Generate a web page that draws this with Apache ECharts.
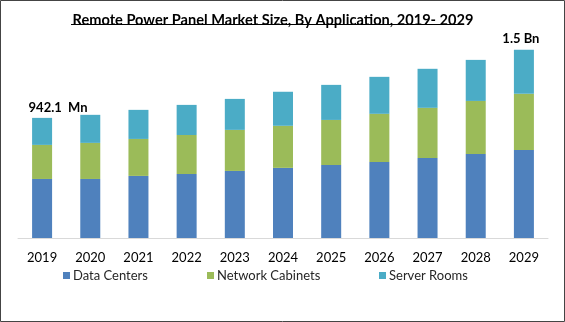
<!DOCTYPE html>
<html>
<head>
<meta charset="utf-8">
<script src="https://cdn.jsdelivr.net/npm/echarts@6/dist/echarts.min.js"></script>
<style>
  html, body { margin: 0; padding: 0; background: #fff; }
  #chart { width: 565px; height: 322px; }
</style>
</head>
<body>
<div id="chart"></div>
<script>
// Remote power panel market, USD Mn, by application
const years = ['2019', '2020', '2021', '2022', '2023', '2024', '2025', '2026', '2027', '2028', '2029'];
const dataCenters      = [463.0, 463, 487, 502, 526, 550, 573, 597, 628, 659, 691];
const networkCabinets  = [267.2, 283, 290, 306, 322, 330, 353, 377, 393, 416, 440];
const serverRooms      = [211.9, 220, 228, 236, 243, 267, 275, 290, 306, 322, 345];

const totals = years.map((_, i) => dataCenters[i] + networkCabinets[i] + serverRooms[i]);

function totalLabel(v) {
  return v >= 1000 ? (v / 1000).toFixed(1) + ' Bn' : v.toFixed(1) + '  Mn';
}

const FONT = 'Lato, "Open Sans", sans-serif';
const chart = echarts.init(document.getElementById('chart'), null, { renderer: 'canvas' });

const labelled = { 0: [16, 0], 10: [-3, 0] };

chart.setOption({
  animation: false,
  backgroundColor: '#fff',
  textStyle: { fontFamily: FONT },
  title: {
    text: 'Remote Power Panel Market Size, By Application, 2019- 2029',
    left: 268, top: 8, textAlign: 'center',
    textStyle: { fontFamily: FONT, fontSize: 14.6, fontWeight: 'bold', color: '#000' }
  },
  graphic: [
    { type: 'rect', shape: { x: 0.5, y: 0.5, width: 564, height: 321 },
      style: { fill: 'none', stroke: '#444', lineWidth: 1 }, silent: true },
    { type: 'line', shape: { x1: 71, y1: 24.5, x2: 464, y2: 24.5 },
      style: { stroke: '#000', lineWidth: 1 }, silent: true }
  ],
  legend: [
    { data: ['Data Centers'], left: 63, top: 269 },
    { data: ['Network Cabinets'], left: 207, top: 269 },
    { data: ['Server Rooms'], left: 379, top: 269 }
  ].map(l => Object.assign(l, {
    icon: 'rect', itemWidth: 7, itemHeight: 7, itemGap: 0, padding: 0,
    textStyle: { fontFamily: FONT, fontSize: 13, color: '#262626', padding: [0, 0, 0, -2] }
  })),
  grid: { left: 18, right: 17, top: 34, bottom: 84 },
  xAxis: {
    type: 'category',
    data: years,
    axisLine: { lineStyle: { color: '#d9d9d9' } },
    axisTick: { show: false },
    axisLabel: { color: '#000', fontSize: 13, fontFamily: FONT, margin: 13 }
  },
  yAxis: {
    type: 'value', min: 0, max: 1600,
    show: false, splitLine: { show: false }
  },
  series: [
    { name: 'Data Centers', type: 'bar', stack: 'a', barWidth: 20,
      itemStyle: { color: '#4F81BD' }, data: dataCenters },
    { name: 'Network Cabinets', type: 'bar', stack: 'a', barWidth: 20,
      itemStyle: { color: '#9BBB59' }, data: networkCabinets },
    { name: 'Server Rooms', type: 'bar', stack: 'a', barWidth: 20,
      itemStyle: { color: '#4BACC6' },
      data: serverRooms.map((v, i) => labelled[i] ? {
        value: v,
        label: {
          show: true, position: 'top', distance: 4, offset: labelled[i],
          formatter: () => totalLabel(totals[i]),
          fontFamily: FONT, fontSize: 13, fontWeight: 'bold', color: '#000'
        }
      } : v)
    }
  ]
});
</script>
</body>
</html>
